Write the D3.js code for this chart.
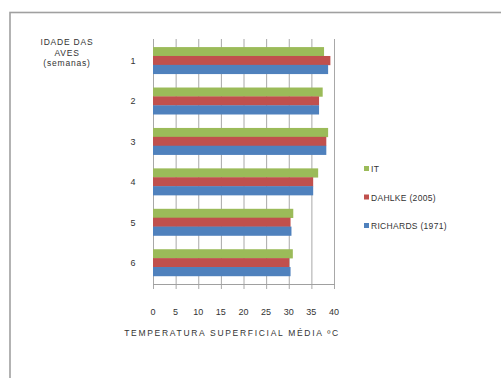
<!DOCTYPE html>
<html>
<head>
<meta charset="utf-8">
<script src="https://cdn.jsdelivr.net/npm/d3@7"></script>
<style>
  html, body { margin: 0; padding: 0; background: #fff; }
  svg { display: block; }
  text { font-family: "Liberation Sans", Arial, sans-serif; fill: #333; }
</style>
</head>
<body>
<svg id="chart" width="501" height="378"></svg>
<script>
// Bird age (weeks) and mean surface temperature per source
const weeks = ["1", "2", "3", "4", "5", "6"];
const seriesNames = ["IT", "DAHLKE (2005)", "RICHARDS (1971)"];
const itValues = [37.8, 37.5, 38.7, 36.5, 31.0, 30.9];
const dahlkeValues = [39.2, 36.7, 38.3, 35.4, 30.4, 30.1];
const richardsValues = [38.7, 36.7, 38.3, 35.4, 30.6, 30.4];
const xTicks = [0, 5, 10, 15, 20, 25, 30, 35, 40];
const seriesColors = ["#9bbb59", "#c0504d", "#4f81bd"];

const seriesValues = [itValues, dahlkeValues, richardsValues];
const svg = d3.select("#chart");

// outer frame (only top and left edges fall inside the view)
svg.append("rect")
  .attr("x", 10).attr("y", 12.5)
  .attr("width", 520).attr("height", 400)
  .attr("fill", "none").attr("stroke", "#a0a0a0").attr("stroke-width", 1.6);

const x = d3.scaleLinear().domain([0, 40]).range([153, 334]);
const y = d3.scaleBand().domain(weeks).range([39, 284]).paddingInner(0.34).paddingOuter(0.2);
const ySub = d3.scaleBand().domain(seriesNames).range([0, y.bandwidth()]);

// vertical gridlines, extending past the plot as tick marks
svg.append("g").selectAll("line").data(xTicks).join("line")
  .attr("x1", d => x(d) + 0.5).attr("x2", d => x(d) + 0.5)
  .attr("y1", 39).attr("y2", 289)
  .attr("stroke", "#a8a8a8").attr("stroke-width", 1);

// bottom axis line
svg.append("line")
  .attr("x1", x(0)).attr("x2", x(40) + 1)
  .attr("y1", 284.5).attr("y2", 284.5)
  .attr("stroke", "#a0a0a0").attr("stroke-width", 1);

// bars
const groups = svg.append("g").selectAll("g").data(weeks).join("g")
  .attr("transform", d => `translate(0,${y(d)})`);
groups.selectAll("rect")
  .data((w, i) => seriesNames.map((s, k) => ({ s, k, v: seriesValues[k][i] })))
  .join("rect")
  .attr("x", x(0))
  .attr("y", d => ySub(d.s))
  .attr("width", d => x(d.v) - x(0))
  .attr("height", ySub.bandwidth() + 0.3)
  .attr("fill", d => seriesColors[d.k]);

// category labels
svg.append("g").selectAll("text").data(weeks).join("text")
  .attr("x", 133).attr("y", d => y(d) + y.bandwidth() / 2 + 3.5)
  .attr("text-anchor", "middle").attr("font-size", 9)
  .text(d => d);

// x tick labels
svg.append("g").selectAll("text").data(xTicks).join("text")
  .attr("x", d => x(d)).attr("y", 315)
  .attr("text-anchor", "middle").attr("font-size", 9)
  .text(d => d);

// axis titles
svg.append("text")
  .attr("x", 232).attr("y", 336)
  .attr("text-anchor", "middle").attr("font-size", 8.5)
  .attr("letter-spacing", 1.7)
  .text("TEMPERATURA SUPERFICIAL MÉDIA ºC");

const yTitle = ["IDADE DAS", "AVES", "(semanas)"];
svg.append("g").selectAll("text").data(yTitle).join("text")
  .attr("x", 67).attr("y", (d, i) => 45 + i * 10.5)
  .attr("text-anchor", "middle").attr("font-size", 8.5)
  .attr("letter-spacing", 0.8)
  .text(d => d);

// legend
const legend = svg.append("g").selectAll("g").data(seriesNames).join("g")
  .attr("transform", (d, i) => `translate(364,${169 + i * 28.5})`);
legend.append("rect")
  .attr("x", 0).attr("y", -3).attr("width", 5).attr("height", 5)
  .attr("fill", (d, i) => seriesColors[i]);
legend.append("text")
  .attr("x", 7).attr("y", 3).attr("font-size", 8.5)
  .attr("letter-spacing", 0.3)
  .text(d => d);
</script>
</body>
</html>
